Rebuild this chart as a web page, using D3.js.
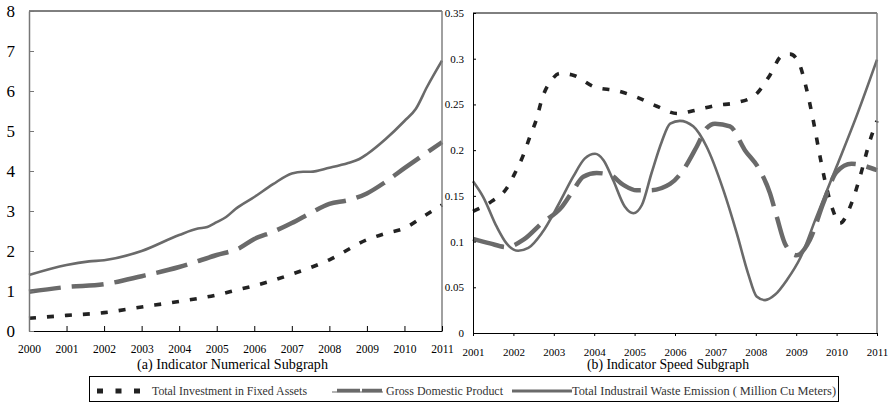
<!DOCTYPE html>
<html>
<head>
<meta charset="utf-8">
<script src="https://cdn.jsdelivr.net/npm/d3@7"></script>
<style>
  body { margin: 0; background: #fff; }
  svg text { font-family: "Liberation Serif", "DejaVu Serif", serif; }
</style>
</head>
<body>
<svg id="chart" width="889" height="407"></svg>
<script>
// ---- data ----
// (a) numerical subgraph, [year, value]
var levelYears = d3.range(2000, 2012);
var levelTicks = [0, 1, 2, 3, 4, 5, 6, 7, 8];
var levelInvest = [[2000,0.32],[2001,0.39],[2002,0.46],[2003,0.6],[2004,0.74],[2005,0.9],[2005.6,1.04],[2006,1.13],
                   [2007,1.42],[2008,1.78],[2009,2.28],[2009.5,2.44],[2010,2.57],[2010.5,2.86],[2011,3.15]];
var levelGdp = [[2000,0.98],[2001,1.1],[2002,1.17],[2003,1.37],[2004,1.6],[2005,1.9],[2005.6,2.07],[2006,2.3],
                [2006.5,2.48],[2007,2.7],[2007.5,2.95],[2008,3.18],[2008.5,3.27],[2009,3.44],[2009.5,3.73],
                [2010,4.07],[2010.5,4.4],[2011,4.72]];
var levelWaste = [[2000,1.4],[2001,1.65],[2001.6,1.74],[2002,1.77],[2003,2.0],[2004,2.4],[2004.5,2.56],[2004.75,2.6],
                  [2005,2.72],[2005.25,2.85],[2005.5,3.05],[2006,3.35],[2006.5,3.67],[2007,3.94],[2007.3,3.98],
                  [2007.5,3.98],[2008,4.08],[2008.5,4.2],[2008.8,4.3],[2009,4.42],[2009.5,4.8],[2010,5.25],
                  [2010.3,5.55],[2010.6,6.1],[2011,6.76]];

// (b) speed subgraph, [year, value]
var speedYears = d3.range(2001, 2012);
var speedTicks = [0, 0.05, 0.1, 0.15, 0.2, 0.25, 0.3, 0.35];
var speedInvest = [[2001,0.133],[2001.46,0.144],[2001.83,0.158],[2002.04,0.175],[2002.25,0.195],[2002.41,0.215],
                   [2002.58,0.235],[2002.7,0.255],[2002.95,0.277],[2003.15,0.284],[2003.48,0.282],[2004.02,0.269],
                   [2004.56,0.265],[2005.05,0.258],[2005.55,0.248],[2006.06,0.24],[2006.54,0.244],[2007.03,0.249],
                   [2007.53,0.252],[2007.98,0.26],[2008.35,0.282],[2008.64,0.303],[2008.85,0.305],[2009.05,0.297],
                   [2009.26,0.266],[2009.42,0.233],[2009.59,0.193],[2009.71,0.167],[2009.92,0.133],[2010.08,0.12],
                   [2010.37,0.142],[2010.58,0.171],[2010.83,0.211],[2011,0.232]];
var speedGdp = [[2001,0.103],[2001.42,0.098],[2001.83,0.094],[2002.25,0.102],[2002.7,0.12],[2003.2,0.138],
                [2003.48,0.156],[2003.73,0.171],[2004.06,0.175],[2004.39,0.173],[2004.72,0.162],[2005.05,0.156],
                [2005.38,0.156],[2005.88,0.163],[2006.2,0.178],[2006.54,0.204],[2006.78,0.224],[2006.99,0.229],
                [2007.36,0.226],[2007.73,0.2],[2008.1,0.178],[2008.35,0.153],[2008.52,0.127],[2008.72,0.098],
                [2009.01,0.085],[2009.34,0.102],[2009.67,0.142],[2010,0.176],[2010.37,0.185],[2011,0.178]];
var speedWaste = [[2001,0.166],[2001.25,0.149],[2001.59,0.116],[2001.83,0.098],[2002.12,0.09],[2002.37,0.093],
                  [2002.7,0.109],[2003.11,0.14],[2003.48,0.171],[2003.77,0.191],[2004.02,0.196],[2004.23,0.189],
                  [2004.47,0.167],[2004.76,0.138],[2004.97,0.131],[2005.18,0.14],[2005.42,0.175],[2005.67,0.209],
                  [2005.88,0.229],[2006.12,0.232],[2006.45,0.226],[2006.78,0.204],[2007.2,0.156],[2007.53,0.109],
                  [2007.81,0.065],[2008.02,0.04],[2008.23,0.036],[2008.48,0.042],[2008.77,0.058],[2009.1,0.082],
                  [2009.5,0.127],[2010,0.182],[2010.5,0.238],[2011,0.299]];

var seriesNames = ["Total Investment in Fixed Assets", "Gross Domestic Product",
                   "Total Industrail Waste Emission (  Million Cu Meters)"];

var svg = d3.select("#chart");
var grey = "#6a6a6a", black = "#222";
var styles = [
  {color: black, width: 3.6, dash: "7,11"},
  {color: grey, width: 4.5, dash: "32,11"},
  {color: grey, width: 2.6, dash: null}
];

function drawLines(g, x, y, sets){
  var line = d3.line().x(function(d){return x(d[0]);}).y(function(d){return y(d[1]);})
      .curve(d3.curveMonotoneX);
  sets.forEach(function(s, i){
    g.append("path").datum(s)
      .attr("fill", "none")
      .attr("stroke", styles[i].color)
      .attr("stroke-width", styles[i].width)
      .attr("stroke-dasharray", styles[i].dash)
      .attr("d", line);
  });
}

// ---- panel (a) ----
var xa = d3.scaleLinear().domain([2000, 2011]).range([29, 442]);
var ya = d3.scaleLinear().domain([0, 8]).range([331, 11]);
var ga = svg.append("g");

drawLines(ga, xa, ya, [levelInvest, levelGdp, levelWaste]);

ga.append("line").attr("x1", 29).attr("x2", 442).attr("y1", 11).attr("y2", 11).attr("stroke", "#000");
ga.append("line").attr("x1", 442).attr("x2", 442).attr("y1", 11).attr("y2", 331).attr("stroke", "#808080").attr("stroke-width", 1.5);

var axA = ga.append("g").attr("transform", "translate(0,331)")
  .call(d3.axisBottom(xa).tickValues(levelYears).tickFormat(d3.format("d")).tickSizeInner(-5).tickSizeOuter(0).tickPadding(14));
axA.select(".domain").attr("stroke", "#000");
axA.selectAll("text").attr("font-size", "11.5px").attr("fill", "#000");

var ayA = ga.append("g").attr("transform", "translate(29,0)")
  .call(d3.axisLeft(ya).tickValues(levelTicks).tickSizeInner(-5).tickSizeOuter(0).tickPadding(14));
ayA.select(".domain").attr("stroke", "#777").attr("stroke-width", 1.5);
ayA.selectAll(".tick line").attr("stroke", "#777");
ayA.selectAll("text").attr("font-size", "17px").attr("fill", "#000");

svg.append("text").attr("x", 137).attr("y", 369).attr("font-size", "14px")
  .attr("textLength", 191).attr("lengthAdjust", "spacingAndGlyphs")
  .text("(a)  Indicator Numerical Subgraph");

// ---- panel (b) ----
var xb = d3.scaleLinear().domain([2001, 2011]).range([473, 877]);
var yb = d3.scaleLinear().domain([0, 0.35]).range([333, 13]);
var gb = svg.append("g");

drawLines(gb, xb, yb, [speedInvest, speedGdp, speedWaste]);

gb.append("line").attr("x1", 473).attr("x2", 877).attr("y1", 13).attr("y2", 13).attr("stroke", "#000");
gb.append("line").attr("x1", 877).attr("x2", 877).attr("y1", 13).attr("y2", 333).attr("stroke", "#808080").attr("stroke-width", 1.5);

var axB = gb.append("g").attr("transform", "translate(0,333)")
  .call(d3.axisBottom(xb).tickValues(speedYears).tickFormat(d3.format("d")).tickSizeInner(3).tickSizeOuter(0).tickPadding(12));
axB.select(".domain").attr("stroke", "#000");
axB.selectAll("text").attr("font-size", "11px").attr("fill", "#000");

var ayB = gb.append("g").attr("transform", "translate(473,0)")
  .call(d3.axisLeft(yb).tickValues(speedTicks).tickFormat(function(d){ return d === 0 ? "0" : String(d); })
    .tickSizeInner(-3).tickSizeOuter(0).tickPadding(9));
ayB.select(".domain").attr("stroke", "#000");
ayB.selectAll("text").attr("font-size", "11px").attr("fill", "#000");

svg.append("text").attr("x", 587).attr("y", 369).attr("font-size", "14px")
  .attr("textLength", 162).attr("lengthAdjust", "spacingAndGlyphs")
  .text("(b) Indicator Speed Subgraph");

// ---- legend ----
var lg = svg.append("g");
lg.append("rect").attr("x", 89.5).attr("y", 376.5).attr("width", 749).attr("height", 25)
  .attr("fill", "#fff").attr("stroke", "#000");
var ly = 391;
lg.append("line").attr("x1", 97).attr("x2", 140).attr("y1", ly).attr("y2", ly)
  .attr("stroke", black).attr("stroke-width", 5).attr("stroke-dasharray", "6,12.5");
lg.append("line").attr("x1", 332).attr("x2", 383).attr("y1", ly + 1).attr("y2", ly + 1)
  .attr("stroke", grey).attr("stroke-width", 1.2);
lg.append("line").attr("x1", 337).attr("x2", 382).attr("y1", ly - 0.5).attr("y2", ly - 0.5)
  .attr("stroke", grey).attr("stroke-width", 3.5).attr("stroke-dasharray", "23,2");
lg.append("line").attr("x1", 512).attr("x2", 572).attr("y1", ly).attr("y2", ly)
  .attr("stroke", grey).attr("stroke-width", 3);

var legendX = [152, 386, 572];
var legendW = [155, 117, 264];
seriesNames.forEach(function(n, i){
  lg.append("text").attr("x", legendX[i]).attr("y", ly + 4).attr("font-size", "12px").attr("fill", "#333")
    .attr("textLength", legendW[i]).attr("lengthAdjust", "spacingAndGlyphs").text(n);
});
</script>
</body>
</html>
